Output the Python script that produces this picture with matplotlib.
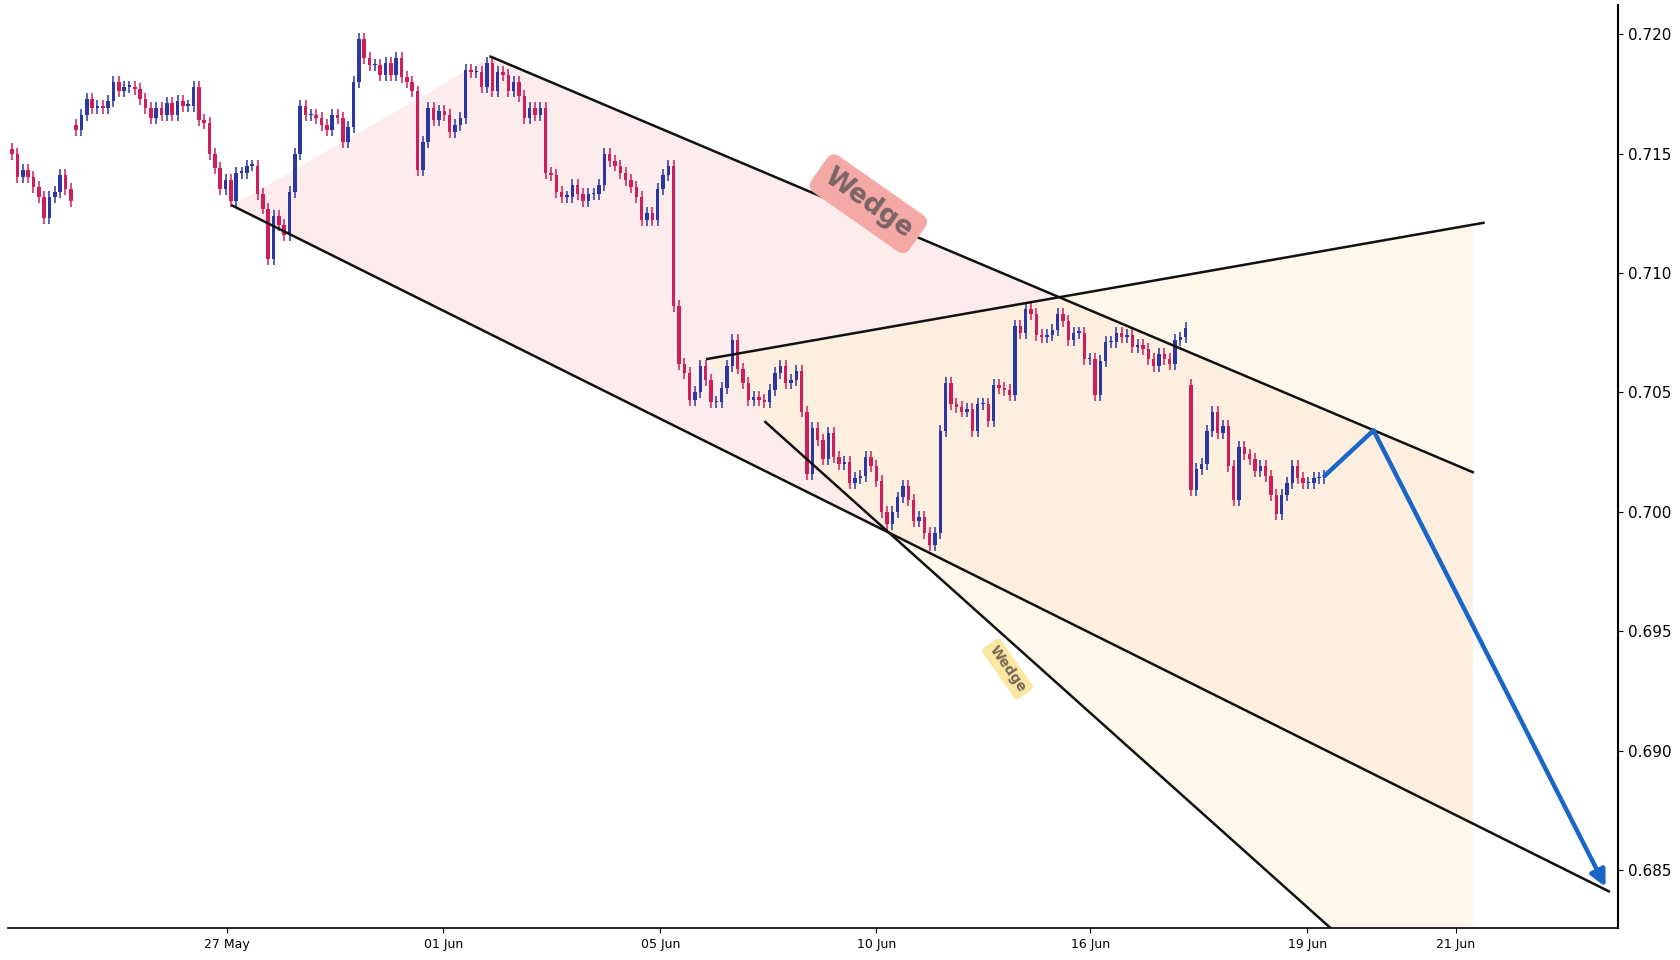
import matplotlib
matplotlib.use("Agg")
import matplotlib.pyplot as plt
from matplotlib.patches import Polygon, FancyArrowPatch
import numpy as np

closes = [
 0.7150,0.7140,0.7143,0.7140,0.7136,0.7132,0.7123,0.7132,0.7134,0.7141,0.7135,0.7130,
 0.7160,0.7166,0.7173,0.7169,0.7170,0.7169,0.7172,0.7180,0.7176,0.7178,0.7178,0.7177,
 0.7173,0.7169,0.7165,0.7169,0.7166,0.7171,0.7166,0.7172,0.7170,0.7170,0.7178,0.7164,
 0.7163,0.7150,0.7144,0.7135,0.7139,0.7130,0.7142,0.7142,0.7145,0.7145,0.7133,0.7127,
 0.7106,0.7124,0.7120,0.7116,0.7134,0.7150,0.7170,0.7166,0.7166,0.7165,0.7162,0.7160,
 0.7166,0.7165,0.7155,0.7161,0.7180,0.7198,0.7190,0.7187,0.7187,0.7183,0.7188,0.7183,
 0.7190,0.7182,0.7180,0.7176,0.7143,0.7155,0.7169,0.7164,0.7168,0.7166,0.7159,0.7162,
 0.7165,0.7185,0.7184,0.7184,0.7178,0.7188,0.7176,0.7184,0.7183,0.7176,0.7180,0.7174,
 0.7165,0.7169,0.7166,0.7169,0.7142,0.7141,0.7134,0.7132,0.7132,0.7137,0.7133,0.7130,
 0.7133,0.7133,0.7137,0.7150,0.7147,0.7145,0.7142,0.7139,0.7136,0.7132,0.7122,0.7125,
 0.7122,0.7135,0.7141,0.7145,0.7086,0.7062,0.7058,0.7047,0.7050,0.7061,0.7055,0.7046,
 0.7046,0.7052,0.7061,0.7072,0.7060,0.7054,0.7047,0.7048,0.7047,0.7046,0.7051,0.7058,
 0.7061,0.7054,0.7055,0.7059,0.7042,0.7016,0.7035,0.7030,0.7022,0.7033,0.7023,0.7020,
 0.7021,0.7012,0.7014,0.7015,0.7023,0.7019,0.7013,0.7000,0.6995,0.7000,0.7006,0.7011,
 0.7005,0.6996,0.6998,0.6991,0.6986,0.6991,0.7034,0.7054,0.7045,0.7044,0.7042,0.7043,
 0.7034,0.7045,0.7045,0.7038,0.7053,0.7052,0.7051,0.7049,0.7078,0.7075,0.7085,0.7083,
 0.7074,0.7073,0.7074,0.7076,0.7083,0.7080,0.7072,0.7075,0.7075,0.7064,0.7064,0.7049,
 0.7063,0.7071,0.7071,0.7075,0.7073,0.7074,0.7069,0.7070,0.7068,0.7064,0.7061,0.7066,
 0.7064,0.7062,0.7072,0.7073,0.7077,0.7009,0.7018,0.7020,0.7034,0.7042,0.7033,0.7036,
 0.7019,0.7005,0.7027,0.7024,0.7022,0.7017,0.7019,0.7015,0.7007,0.6999,0.7007,0.7012,
 0.7019,0.7014,0.7012,0.7012,0.7014,0.7014,0.7015,
]
first_open = 0.7152
gap_opens = {12: 0.7162, 221: 0.7053}
wick = 0.00025

tick_pos = [40.3, 80.8, 121.5, 162.0, 202.1, 242.8, 270.6]
tick_labels = ["27 May", "01 Jun", "05 Jun", "10 Jun", "16 Jun", "19 Jun", "21 Jun"]
ytick_vals = [0.685, 0.690, 0.695, 0.700, 0.705, 0.710, 0.715, 0.720]

line_a = [(41.3, 0.71282), (299.3, 0.68411)]
line_b = [(89.7, 0.71906), (273.8, 0.70166)]
line_c = [(130.3, 0.70640), (275.8, 0.71210)]
line_d = [(141.2, 0.70376), (260.0, 0.68000)]
shade_end = 273.8
arrow_pts = [(246.0, 0.7015), (255.2, 0.70341), (298.7, 0.68430)]

UP = "#2a37a3"
DOWN = "#cf1d5d"

fig = plt.figure(figsize=(16.8, 9.6), dpi=100)
ax = fig.add_axes([0.005, 0.033, 0.958, 0.962])

def at(line, x):
    (x0, y0), (x1, y1) = line
    return y0 + (y1 - y0) * (x - x0) / (x1 - x0)

pink = Polygon([line_a[0], line_b[0], (shade_end, at(line_b, shade_end)),
                (shade_end, at(line_a, shade_end))], closed=True,
               facecolor="#fbdada", alpha=0.5, edgecolor="none", zorder=1)
yellow = Polygon([line_c[0], (shade_end, at(line_c, shade_end)),
                  (shade_end, at(line_d, shade_end)), line_d[0]], closed=True,
                 facecolor="#fdf3d4", alpha=0.5, edgecolor="none", zorder=1)
ax.add_patch(pink)
ax.add_patch(yellow)

prev = first_open
for i, c in enumerate(closes):
    o = gap_opens.get(i, prev)
    col = UP if c >= o else DOWN
    hi = max(o, c) + wick
    lo = min(o, c) - wick
    ax.vlines(i, lo, hi, color=col, lw=1.1, zorder=3)
    h = abs(c - o)
    if h < 0.00006:
        h = 0.00006
    ax.bar(i, h, bottom=min(o, c), width=0.65, color=col, zorder=4, linewidth=0)
    prev = c

for ln in (line_a, line_b, line_c, line_d):
    ax.plot([ln[0][0], ln[1][0]], [ln[0][1], ln[1][1]], color="#111111", lw=1.8, zorder=5)

ax.plot([p[0] for p in arrow_pts[:2]], [p[1] for p in arrow_pts[:2]],
        color="#1a66c8", lw=3.2, zorder=6, solid_capstyle="round")
ax.add_patch(FancyArrowPatch(arrow_pts[1], arrow_pts[2], arrowstyle="-|>",
                             mutation_scale=24, color="#1a66c8", lw=3.2, zorder=6,
                             shrinkA=0, shrinkB=0))

ax.text(160.5, 0.71290, "Wedge", rotation=-35, ha="center", va="center",
        fontsize=19, fontweight="bold", color="#7a6464", zorder=7,
        bbox=dict(boxstyle="round,pad=0.35", fc="#f4a9a7", ec="none"))
ax.text(186.6, 0.69342, "Wedge", rotation=-55, ha="center", va="center",
        fontsize=10, fontweight="bold", color="#7a6a5a", zorder=7,
        bbox=dict(boxstyle="round,pad=0.3", fc="#fbe6a2", ec="none"))

ax.set_xlim(-0.7, 301)
ax.set_ylim(0.68256, 0.72123)
ax.set_xticks(tick_pos)
ax.set_xticklabels(tick_labels, fontsize=9)
ax.yaxis.tick_right()
ax.set_yticks(ytick_vals)
ax.set_yticklabels([f"{v:.3f}" for v in ytick_vals], fontsize=11)
ax.spines["top"].set_visible(False)
ax.spines["left"].set_visible(False)
ax.spines["right"].set_linewidth(1.5)
ax.spines["bottom"].set_linewidth(1.2)
fig.savefig("out.png", dpi=100)
